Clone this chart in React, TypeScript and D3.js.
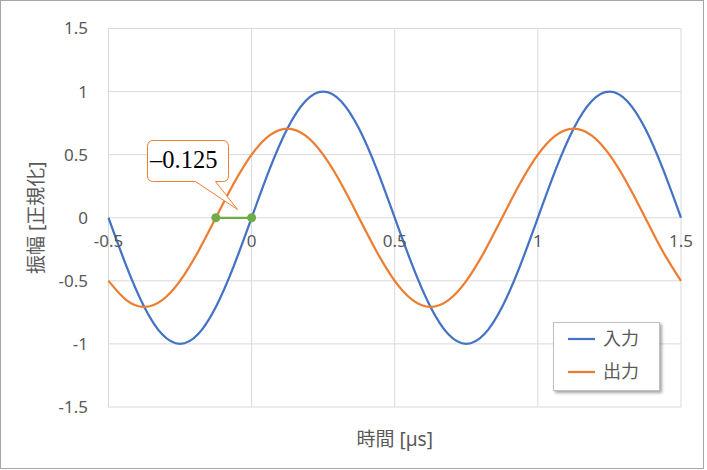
import React from "react";
import * as d3 from "d3";

const times = [-0.5, -0.4375, -0.375, -0.3125, -0.25, -0.1875, -0.125, -0.0625, 0, 0.0625, 0.125, 0.1875, 0.25, 0.3125, 0.375, 0.4375, 0.5, 0.5625, 0.625, 0.6875, 0.75, 0.8125, 0.875, 0.9375, 1, 1.0625, 1.125, 1.1875, 1.25, 1.3125, 1.375, 1.4375, 1.5];
const inputValues = [0, -0.383, -0.707, -0.924, -1, -0.924, -0.707, -0.383, 0, 0.383, 0.707, 0.924, 1, 0.924, 0.707, 0.383, 0, -0.383, -0.707, -0.924, -1, -0.924, -0.707, -0.383, 0, 0.383, 0.707, 0.924, 1, 0.924, 0.707, 0.383, 0];
const outputValues = [-0.5, -0.653, -0.707, -0.653, -0.5, -0.271, 0, 0.271, 0.5, 0.653, 0.707, 0.653, 0.5, 0.271, 0, -0.271, -0.5, -0.653, -0.707, -0.653, -0.5, -0.271, 0, 0.271, 0.5, 0.653, 0.707, 0.653, 0.5, 0.271, 0, -0.271, -0.5];
const xTicks = [-0.5, 0, 0.5, 1, 1.5];
const xTickLabels = ["-0.5", "0", "0.5", "1", "1.5"];
const yTicks = [-1.5, -1, -0.5, 0, 0.5, 1, 1.5];
const yTickLabels = ["-1.5", "-1", "-0.5", "0", "0.5", "1", "1.5"];
const seriesNames = ["入力", "出力"];
const seriesColors = ["#4472C4", "#ED7D31"];
const delayPoints = [-0.125, 0];
const delayLabel = "\u20130.125";
const xTitle = "時間 [µs]";
const yTitle = "振幅 [正規化]";

export default function App() {
  const x = d3.scaleLinear().domain([-0.5, 1.5]).range([108.5, 681]);
  const y = d3.scaleLinear().domain([-1.5, 1.5]).range([407, 28.5]);
  const line = d3
    .line<number>()
    .x((_, i) => x(times[i]))
    .y((d) => y(d))
    .curve(d3.curveNatural);
  const series = [inputValues, outputValues];
  const font = "'Noto Sans', 'Noto Sans CJK JP', sans-serif";
  const textColor = "#595959";
  return (
    <svg
      width={707}
      height={470}
      style={{ position: "absolute", left: 0, top: 0, background: "#fff" }}
      fontFamily={font}
    >
      <defs>
        <filter id="shadow" x="-20%" y="-20%" width="140%" height="140%">
          <feDropShadow dx="2" dy="2" stdDeviation="1.5" floodColor="#000" floodOpacity="0.35" />
        </filter>
      </defs>
      <rect x={0.5} y={0.5} width={703} height={468} fill="#fff" stroke="#a6a6a6" />
      {yTicks.map((t) => (
        <line key={"gy" + t} x1={x(-0.5)} x2={x(1.5)} y1={y(t)} y2={y(t)} stroke="#d9d9d9" strokeWidth={1} />
      ))}
      {xTicks.map((t) => (
        <line key={"gx" + t} x1={x(t)} x2={x(t)} y1={y(1.5)} y2={y(-1.5)} stroke="#d9d9d9" strokeWidth={1} />
      ))}
      {yTicks.map((t, i) => (
        <text key={"ty" + t} x={88} y={y(t)} dy="0.35em" textAnchor="end" fontSize={17} fill={textColor}>
          {yTickLabels[i]}
        </text>
      ))}
      {series.map((s, i) => (
        <path key={"s" + i} d={line(s) || ""} fill="none" stroke={seriesColors[i]} strokeWidth={2.25} />
      ))}
      {xTicks.map((t, i) => (
        <text key={"tx" + t} x={x(t)} y={y(0) + 29} textAnchor="middle" fontSize={17} fill={textColor}>
          {xTickLabels[i]}
        </text>
      ))}
      <line
        x1={x(delayPoints[0])}
        x2={x(delayPoints[1])}
        y1={y(0)}
        y2={y(0)}
        stroke="#70AD47"
        strokeWidth={2.25}
      />
      {delayPoints.map((p) => (
        <circle key={"dp" + p} cx={x(p)} cy={y(0)} r={4.5} fill="#70AD47" />
      ))}
      <path
        d="M153.5,140.5 H222.5 Q228.5,140.5 228.5,146.5 V175.5 Q228.5,181.5 222.5,181.5 H215.5 L237.5,209.5 L195.5,181.5 H153.5 Q147.5,181.5 147.5,175.5 V146.5 Q147.5,140.5 153.5,140.5 Z"
        fill="#fff"
        stroke="#ED7D31"
        strokeWidth={1}
      />
      <text x={150} y={168} fontFamily="'Liberation Serif', 'Times New Roman', serif" fontSize={24.5} fill="#000">
        {delayLabel}
      </text>
      <text x={x(0.5)} y={446} textAnchor="middle" fontSize={19} fill={textColor}>
        {xTitle}
      </text>
      <text
        transform={`translate(43,${y(0)}) rotate(-90)`}
        textAnchor="middle"
        fontSize={19}
        fill={textColor}
      >
        {yTitle}
      </text>
      <g>
        <rect x={553.5} y={322.5} width={106} height={68} fill="#fff" stroke="#bfbfbf" filter="url(#shadow)" />
        {seriesNames.map((n, i) => (
          <g key={"lg" + i}>
            <line x1={568} x2={595} y1={339 + i * 33} y2={339 + i * 33} stroke={seriesColors[i]} strokeWidth={2.25} />
            <text x={603} y={339 + i * 33} dy="0.35em" fontSize={18} fill={textColor}>
              {n}
            </text>
          </g>
        ))}
      </g>
    </svg>
  );
}
